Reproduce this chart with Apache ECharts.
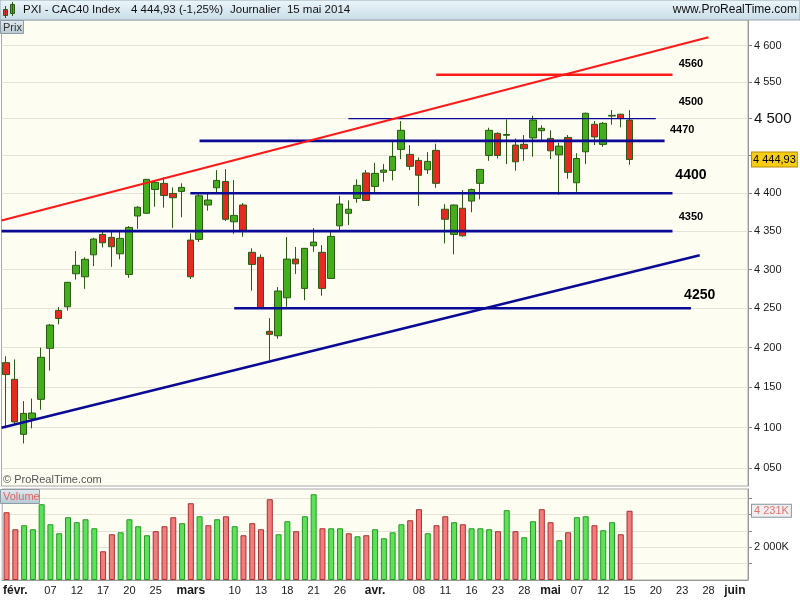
<!DOCTYPE html>
<html><head><meta charset="utf-8">
<script src="https://cdn.jsdelivr.net/npm/echarts/dist/echarts.min.js"></script>
<style>html,body{margin:0;padding:0;background:#fff}#c{width:800px;height:600px}</style>
</head><body><div id="c"></div>
<script>
// ---- calendar (trading days, Euronext Paris) ----
const daysJan = [31];
const daysFeb = [3,4,5,6,7,10,11,12,13,14,17,18,19,20,21,24,25,26,27,28];
const daysMar = [3,4,5,6,7,10,11,12,13,14,17,18,19,20,21,24,25,26,27,28,31];
const daysApr = [1,2,3,4,7,8,9,10,11,14,15,16,17,22,23,24,25,28,29,30];
const daysMay = [2,5,6,7,8,9,12,13,14,15,16,19,20,21,22,23,26,27,28,29,30];
const daysJun = [2,3];

// ---- OHLC ----
const opens  = [4181,4160,4091.6,4111,4135,4199,4247.3,4252,4294.5,4290.6,4319.1,4345.7,4341.8,4320.4,4293.6,4369.9,4373.5,4405,4413.1,4399.7,4402.4,4338.3,4339.2,4384.4,4407.2,4415.6,4362.3,4384.4,4322.3,4315.8,4220.6,4215,4263.5,4313.5,4275.6,4330.9,4322.3,4288.4,4357,4373.5,4393.1,4426.9,4409,4427.8,4430.4,4458.5,4451.8,4443.7,4431.2,4457.2,4378.8,4345.7,4380.1,4389.6,4413.1,4450.4,4480.1,4477.5,4464.3,4465.3,4473.9,4483.7,4473.3,4451.2,4474.6,4413.9,4455.3,4492.4,4465.2,4503.5,4506,4498.1];
const highs  = [4189,4185,4132.8,4136,4200,4230,4251.5,4284,4324,4315.8,4341.3,4351.3,4351.3,4350.4,4356.6,4383,4419,4417.5,4421,4407.7,4413.1,4347,4399.7,4401.5,4430.7,4432,4417.5,4387,4327.5,4319.7,4237.4,4277.3,4342.2,4329.2,4328,4353.9,4331.8,4350.4,4396.6,4390.5,4418.4,4430.8,4440.4,4438.8,4468.8,4496.7,4464.3,4447.7,4454.8,4466.1,4385.4,4385,4404.1,4406,4432,4487.7,4481.5,4499,4473.3,4477.8,4504,4491,4484.2,4467.4,4477.8,4453.4,4508.1,4496.7,4495.4,4511.6,4506.5,4511.6];
const lows   = [4099,4105,4080.4,4099,4122,4171,4229.5,4247,4287,4275,4304.4,4328.8,4303.5,4313.2,4289.2,4353,4373,4382.2,4380.9,4354.4,4368.2,4287.6,4336,4377,4400.5,4363.3,4346.5,4342.6,4272.6,4249,4184.3,4211.2,4252,4294.4,4260.5,4323,4266.1,4288,4351.3,4358,4387.4,4390,4400.5,4415.2,4417,4445.4,4430.8,4383.2,4425.6,4407.2,4334,4319.7,4342.6,4374.8,4391.8,4443.2,4446.3,4438.8,4429.9,4443.2,4448.6,4471.1,4445.4,4397.9,4419.2,4401.9,4438.8,4464.3,4461.9,4491.8,4488.2,4437.8];
const closes = [4166,4107,4117.5,4118,4187.7,4228.6,4237,4283.4,4305.4,4313.2,4339.7,4334.8,4329.6,4340.5,4354.9,4381.4,4418.4,4414.4,4397,4394,4407.7,4290.6,4396.6,4391,4417,4365.6,4370.7,4349.6,4306.6,4249.9,4216.8,4272.2,4313.5,4307.4,4327.5,4335.7,4275.6,4343.1,4385.7,4378.8,4410.4,4390.4,4426.4,4430.8,4449,4484.2,4435.8,4423.9,4442.4,4413.1,4365.6,4384.4,4343.9,4405,4431.7,4484.2,4450.4,4478.5,4441.9,4459.4,4498.1,4486.9,4456.6,4462.9,4427.8,4446.3,4507.3,4475.3,4493.7,4504.5,4500.2,4444.93];
const prevClose = 4190;
const changePct = -1.25;

// ---- volume (thousands) ----
const volumes = [4140,3100,3345,3100,4630,3405,2855,3835,3530,3710,3160,1755,2795,2915,3710,3285,2735,2980,3285,3835,3470,4690,3895,3345,3710,3895,3285,2735,3470,3100,4935,2795,3590,2980,3895,5240,3160,3160,3160,2855,2670,2735,3100,2550,2915,3405,3650,4325,2855,3345,3895,3530,3405,3160,3160,3100,2980,4265,2980,2610,3590,4325,3530,2430,2915,3835,3895,3345,3040,3530,2795,4231];

// ---- axes ----
const priceTicks  = [4050,4100,4150,4200,4250,4300,4350,4400,4450,4500,4550,4600];
const priceLabels = [4050,4100,4150,4200,4250,4300,4350,4400,4500,4550,4600];
const volumeTicks  = [1000,2000,3000,4000,5000];
const volumeLabels = [2000];
const tickDates = ['2014-02-03','2014-02-07','2014-02-12','2014-02-17','2014-02-20','2014-02-25','2014-03-03','2014-03-10','2014-03-13','2014-03-18','2014-03-21','2014-03-26','2014-04-01','2014-04-08','2014-04-11','2014-04-16','2014-04-23','2014-04-28','2014-05-02','2014-05-07','2014-05-12','2014-05-15','2014-05-20','2014-05-23','2014-05-28','2014-06-02'];
const monthNames = ['janv.','févr.','mars','avr.','mai','juin'];

// ---- drawn levels and trend lines (x in bar index, y in index points) ----
const levelValues = [4560, 4500, 4470, 4400, 4350, 4250];
const levelFrom   = [49.0, 39.0, 22.05, 21.0, -0.5, 26.0];
const levelTo     = [75.9, 74.0, 75.0, 75.9, 75.9, 78.0];
const levelLabelAt= [78.0, 78.0, 77.0, 78.0, 78.0, 79.0];
const resistanceTrend = [[-0.5, 4364], [80.0, 4611.7]];
const supportTrend    = [[-0.5, 4099.7], [79.0, 4318.5]];

// ---------------------------------------------------------------
function pad(n){ return n < 10 ? '0' + n : '' + n; }
const dates = [];
[['2014-01',daysJan],['2014-02',daysFeb],['2014-03',daysMar],['2014-04',daysApr],['2014-05',daysMay],['2014-06',daysJun]]
  .forEach(([m, ds]) => ds.forEach(d => dates.push(m + '-' + pad(d))));
const tickSet = new Set(tickDates);
function sp(n){ return String(n).replace(/\B(?=(\d{3})+(?!\d))/g, ' '); }
function fmtPrice(v){ const p = v.toFixed(2).split('.'); return sp(p[0]) + ',' + p[1]; }

const candleData = opens.map((o, i) => [o, closes[i], lows[i], highs[i]]);
const UP = {fill:'#5fe05a', border:'#229a22'}, DN = {fill:'#f27c7c', border:'#a83030'};
const volData = volumes.map((v, i) => {
  const prev = i === 0 ? prevClose : closes[i - 1];
  const c = closes[i] >= prev ? UP : DN;
  return {value: v, itemStyle: {color: c.fill, borderColor: c.border, borderWidth: 1}};
});
const lastClose = closes[closes.length - 1];
const lastVol = volumes[volumes.length - 1];

const BLUE = '#0a0a96', RED = '#ff1a1a';
const levelSeries = levelValues.map((v, k) => ({
  type: 'line', xAxisIndex: 1, yAxisIndex: 0, silent: true, symbol: 'none', z: 5,
  data: [[levelFrom[k], v], [levelTo[k], v]],
  lineStyle: {color: v === 4560 ? RED : BLUE, width: v === 4500 ? 1.2 : 2.6}
}));
const bigLevels = [4400, 4250];
const labelOffsets = {4560: -11, 4500: -17, 4470: -11, 4400: -18, 4350: -14, 4250: -13};
const F = '"Liberation Sans", Arial, sans-serif';

const levelLabelData = levelValues.map((v, k) => ({
  value: [levelLabelAt[k], v],
  label: {show: true, position: 'inside', offset: [0, labelOffsets[v]],
    fontSize: bigLevels.includes(v) ? 14 : 11, fontWeight: 'bold', color: '#000', fontFamily: F,
    textBorderWidth: 0, opacity: 1, formatter: String(v)}
}));

const chart = echarts.init(document.getElementById('c'), null, {renderer: 'canvas'});
const CLEAR = 'rgba(0,0,0,0)';

const option = {
  animation: false,
  backgroundColor: '#ffffff',
  textStyle: {fontFamily: F},
  grid: [
    {left: 1.5, right: 52, top: 20, height: 466, show: true, backgroundColor: '#fdfdf2', borderColor: '#a8a8a8', borderWidth: 1},
    {left: 1.5, right: 52, top: 489, height: 91, show: true, backgroundColor: '#fdfdf2', borderColor: '#a8a8a8', borderWidth: 1}
  ],
  xAxis: [
    {type: 'category', gridIndex: 0, data: dates, boundaryGap: true, show: false},
    {type: 'value', gridIndex: 0, min: -0.5, max: 84.5, show: false},
    {type: 'category', gridIndex: 1, data: dates, boundaryGap: true,
     axisLine: {lineStyle: {color: '#999'}},
     axisTick: {alignWithLabel: true, interval: (i, v) => tickSet.has(v), length: 4, lineStyle: {color: '#777'}},
     axisLabel: {interval: (i, v) => tickSet.has(v), margin: 5, color: '#1a1a1a', fontSize: 11, fontFamily: F,
       formatter: (v, i) => {
         const isMonthStart = i === 0 || dates[i - 1].slice(5, 7) !== v.slice(5, 7);
         return isMonthStart ? '{m|' + monthNames[+v.slice(5, 7) - 1] + '}' : v.slice(8, 10);
       },
       rich: {m: {fontWeight: 'bold', fontSize: 12, color: '#1a1a1a', fontFamily: F}}},
     splitLine: {show: false}}
  ],
  yAxis: [
    {type: 'log', logBase: 10, gridIndex: 0, position: 'right', min: 4028.4, max: 4635.8,
     axisLine: {show: true, onZero: false, lineStyle: {color: '#999'}},
     axisTick: {show: true, customValues: priceTicks, length: 4, lineStyle: {color: '#888'}},
     axisLabel: {customValues: priceLabels, margin: 6, color: '#1a1a1a', fontSize: 11, fontFamily: F,
       formatter: v => { const r = Math.round(v); return r === 4500 ? '{b|' + sp(r) + '}' : sp(r); },
       rich: {b: {fontSize: 15, color: '#111', fontFamily: F}}},
     splitLine: {show: false}},
    {type: 'value', gridIndex: 1, position: 'right', min: 0, max: 5560, interval: 2000,
     axisLine: {show: true, onZero: false, lineStyle: {color: '#999'}},
     axisTick: {show: true, customValues: volumeTicks, length: 4, lineStyle: {color: '#888'}},
     axisLabel: {customValues: volumeLabels, margin: 6, color: '#1a1a1a', fontSize: 11, fontFamily: F,
       formatter: v => sp(Math.round(v)) + 'K'},
     splitLine: {show: true, lineStyle: {color: '#e3e3da'}}}
  ],
  series: [
    {type: 'line', xAxisIndex: 1, yAxisIndex: 0, data: [], silent: true,
     markLine: {silent: true, symbol: 'none', z: 1, animation: false, label: {show: false},
       lineStyle: {color: '#e3e3da', width: 1, type: 'solid'},
       emphasis: {disabled: true},
       data: priceTicks.map(v => ({yAxis: v}))}},
    {type: 'candlestick', xAxisIndex: 0, yAxisIndex: 0, data: candleData, barWidth: 7, z: 3,
     itemStyle: {color: '#44ad1e', color0: '#e52a22', borderColor: '#2a5c12', borderColor0: '#2a5c12', borderWidth: 1},
     markLine: {silent: true, symbol: 'none', z: 10, animation: false,
       lineStyle: {color: CLEAR, width: 0},
       emphasis: {disabled: true},
       label: {show: true, position: 'end', distance: 4, formatter: p => fmtPrice(p.value),
         backgroundColor: '#f6cd12', borderColor: '#b88c00', borderWidth: 1, padding: [2, 1, 1, 1],
         color: '#000', fontSize: 11, fontFamily: F},
       data: [{yAxis: lastClose}]}},
    {type: 'bar', xAxisIndex: 2, yAxisIndex: 1, data: volData, barWidth: 6,
     markLine: {silent: true, symbol: 'none', z: 10, animation: false,
       lineStyle: {color: CLEAR, width: 0},
       emphasis: {disabled: true},
       label: {show: true, position: 'end', distance: 4, formatter: p => sp(Math.round(p.value)) + 'K',
         backgroundColor: '#efefef', borderColor: '#8796a3', borderWidth: 1, padding: [1, 2, 0, 2],
         color: '#e87272', fontSize: 11, fontFamily: F},
       data: [{yAxis: lastVol}]}},
    ...levelSeries,
    {type: 'line', xAxisIndex: 1, yAxisIndex: 0, silent: true, symbol: 'none', z: 5,
     data: resistanceTrend, lineStyle: {color: RED, width: 2.2}},
    {type: 'line', xAxisIndex: 1, yAxisIndex: 0, silent: true, symbol: 'none', z: 5,
     data: supportTrend, lineStyle: {color: BLUE, width: 2.4}},
    {type: 'scatter', xAxisIndex: 1, yAxisIndex: 0, silent: true, symbolSize: 2, z: 6,
     itemStyle: {color: CLEAR, opacity: 1},
     data: levelLabelData}
  ],
  graphic: {elements: [
    {type: 'rect', z: 100, shape: {x: 0, y: 0, width: 800, height: 20},
     style: {fill: new echarts.graphic.LinearGradient(0, 0, 0, 1, [{offset: 0, color: '#ecf7fc'}, {offset: 1, color: '#c8dce6'}]), stroke: '#9aa9b3', lineWidth: 1}},
    {type: 'rect', z: 101, shape: {x: 3.5, y: 9.5, width: 4, height: 6}, style: {fill: '#e53030', stroke: '#2a5c12'}},
    {type: 'line', z: 101, shape: {x1: 5.5, y1: 6, x2: 5.5, y2: 18}, style: {stroke: '#2a5c12'}},
    {type: 'rect', z: 101, shape: {x: 10.5, y: 4.5, width: 4, height: 9}, style: {fill: '#3fb01e', stroke: '#2a5c12'}},
    {type: 'line', z: 101, shape: {x1: 12.5, y1: 2, x2: 12.5, y2: 16}, style: {stroke: '#2a5c12'}},
    {type: 'text', z: 101, left: 23, top: 4, style: {text: 'PXI - CAC40 Index', fontSize: 11.5, fontFamily: F, fill: '#111'}},
    {type: 'text', z: 101, left: 131, top: 4, style: {text: fmtPrice(lastClose) + ' (' + changePct.toFixed(2).replace('.', ',') + '%)', fontSize: 11.5, fontFamily: F, fill: '#111'}},
    {type: 'text', z: 101, left: 230, top: 4, style: {text: 'Journalier  15 mai 2014', fontSize: 11.5, fontFamily: F, fill: '#111'}},
    {type: 'text', z: 101, right: 3, top: 4, style: {text: 'www.ProRealTime.com', fontSize: 12, fontFamily: F, fill: '#111'}},
    {type: 'rect', z: 100, shape: {x: 0.5, y: 20.5, width: 23, height: 13},
     style: {fill: new echarts.graphic.LinearGradient(0, 0, 0, 1, [{offset: 0, color: '#e2ebef'}, {offset: 1, color: '#b7c8d1'}]), stroke: '#8d9ca6'}},
    {type: 'text', z: 101, left: 3, top: 22, style: {text: 'Prix', fontSize: 11, fontFamily: F, fill: '#333'}},
    {type: 'rect', z: 100, shape: {x: 0.5, y: 489.5, width: 39, height: 14},
     style: {fill: new echarts.graphic.LinearGradient(0, 0, 0, 1, [{offset: 0, color: '#e2ebef'}, {offset: 1, color: '#b7c8d1'}]), stroke: '#8d9ca6'}},
    {type: 'text', z: 101, left: 3, top: 491, style: {text: 'Volume', fontSize: 11, fontFamily: F, fill: '#e06464'}},
    {type: 'text', z: 101, left: 3, top: 474, style: {text: '© ProRealTime.com', fontSize: 11, fontFamily: F, fill: '#555'}}
  ]}
};
chart.setOption(option);
</script>
</body></html>
